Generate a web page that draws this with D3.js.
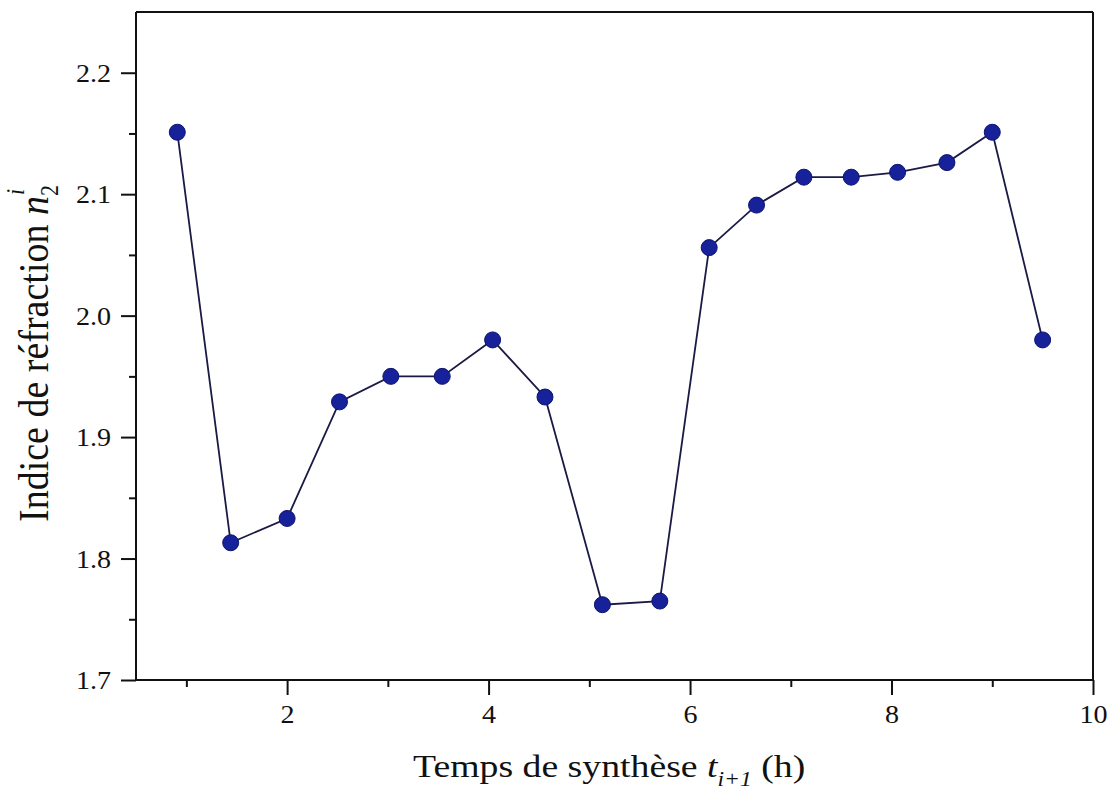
<!DOCTYPE html>
<html>
<head>
<meta charset="utf-8">
<script src="https://cdn.jsdelivr.net/npm/d3@7"></script>
<style>
  html, body { margin: 0; padding: 0; background: #fff; }
  svg { display: block; }
  text { font-family: "Liberation Serif", "Times New Roman", serif; fill: #111; }
</style>
</head>
<body>
<svg id="chart" width="1114" height="800"></svg>
<script>
// Data
const times = [0.91, 1.44, 2.00, 2.52, 3.03, 3.54, 4.04, 4.56, 5.13, 5.70, 6.19, 6.66, 7.13, 7.60, 8.06, 8.55, 9.00, 9.50];
const indices = [2.151, 1.813, 1.833, 1.929, 1.950, 1.950, 1.980, 1.933, 1.762, 1.765, 2.056, 2.091, 2.114, 2.114, 2.118, 2.126, 2.151, 1.980];
const xTicks = [2, 4, 6, 8, 10];
const xMinorTicks = [1, 3, 5, 7, 9];
const yTicks = [1.7, 1.8, 1.9, 2.0, 2.1, 2.2];
const yMinorTicks = [1.75, 1.85, 1.95, 2.05, 2.15];
const xDomain = [0.5, 10];
const yDomain = [1.7, 2.25];

(function () {
const svg = d3.select("#chart");
const mLeft = 136, mRight = 1093, mTop = 12, mBottom = 680;
const serif = "'Liberation Serif', 'Times New Roman', serif";

const x = d3.scaleLinear().domain(xDomain).range([mLeft, mRight]);
const y = d3.scaleLinear().domain(yDomain).range([mBottom, mTop]);

const axisColor = "#111";

// minor ticks
svg.append("g")
  .attr("transform", `translate(0,${mBottom})`)
  .call(d3.axisBottom(x).tickValues(xMinorTicks).tickSize(7).tickFormat(""))
  .call(g => g.select(".domain").remove())
  .call(g => g.selectAll("line").attr("stroke", axisColor).attr("stroke-width", 2));

svg.append("g")
  .attr("transform", `translate(${mLeft},0)`)
  .call(d3.axisLeft(y).tickValues(yMinorTicks).tickSize(7).tickFormat(""))
  .call(g => g.select(".domain").remove())
  .call(g => g.selectAll("line").attr("stroke", axisColor).attr("stroke-width", 2));

// major x axis
const gx = svg.append("g")
  .attr("transform", `translate(0,${mBottom})`)
  .call(d3.axisBottom(x).tickValues(xTicks).tickSize(15).tickSizeOuter(0).tickFormat(d3.format("d")));
gx.attr("font-family", serif).attr("font-size", 26);
gx.select(".domain").attr("stroke", axisColor).attr("stroke-width", 2)
  .attr("d", `M${mLeft},0H${mRight}`);
gx.selectAll(".tick line").attr("stroke", axisColor).attr("stroke-width", 2);
gx.selectAll(".tick text")
  .attr("y", 43).attr("dy", 0)
  .attr("transform", "scale(1.08,1)")
  .attr("fill", "#111");

// major y axis
const gy = svg.append("g")
  .attr("transform", `translate(${mLeft},0)`)
  .call(d3.axisLeft(y).tickValues(yTicks).tickSize(15).tickSizeOuter(0).tickFormat(d3.format(".1f")));
gy.attr("font-family", serif).attr("font-size", 26);
gy.select(".domain").attr("stroke", axisColor).attr("stroke-width", 2)
  .attr("d", `M0,${mBottom}V${mTop}`);
gy.selectAll(".tick line").attr("stroke", axisColor).attr("stroke-width", 2);
gy.selectAll(".tick text")
  .attr("x", -23).attr("dy", "0.33em")
  .attr("transform", "scale(1.08,1)")
  .attr("fill", "#111");

// frame: top and right
svg.append("line")
  .attr("x1", x(xDomain[0])).attr("x2", x(xDomain[1]))
  .attr("y1", y(yDomain[1])).attr("y2", y(yDomain[1]))
  .attr("stroke", axisColor).attr("stroke-width", 2);
svg.append("line")
  .attr("x1", x(xDomain[1])).attr("x2", x(xDomain[1]))
  .attr("y1", y(yDomain[1])).attr("y2", y(yDomain[0]))
  .attr("stroke", axisColor).attr("stroke-width", 2);

// data
const data = times.map((t, i) => ({ t, n: indices[i] }));

svg.append("path")
  .datum(data)
  .attr("fill", "none")
  .attr("stroke", "#1a1a45")
  .attr("stroke-width", 1.8)
  .attr("d", d3.line().x(d => x(d.t)).y(d => y(d.n)));

svg.append("g").selectAll("circle")
  .data(data)
  .join("circle")
  .attr("cx", d => x(d.t))
  .attr("cy", d => y(d.n))
  .attr("r", 8)
  .attr("fill", "#16219a")
  .attr("stroke", "#0d1370")
  .attr("stroke-width", 1);

// x title
const xt = svg.append("text")
  .attr("transform", "translate(413,777) scale(1.18,1)")
  .attr("font-size", 32);
xt.append("tspan").text("Temps de synthèse ");
xt.append("tspan").attr("font-style", "italic").text("t");
xt.append("tspan").attr("font-style", "italic").attr("font-size", 20).attr("dy", 9).text("i+1");
xt.append("tspan").attr("dy", -9).text(" (h)");

// y title
const yt = svg.append("text")
  .attr("transform", "translate(48,522) scale(1.1,1) rotate(-90)")
  .attr("font-size", 38);
yt.append("tspan").text("Indice de réfraction ");
yt.append("tspan").attr("font-style", "italic").text("n");
yt.append("tspan").attr("font-size", 22).attr("dy", 9).text("2");
yt.append("tspan").attr("font-style", "italic").attr("font-size", 22).attr("dx", -10).attr("dy", -31).text("i");
})();
</script>
</body>
</html>
